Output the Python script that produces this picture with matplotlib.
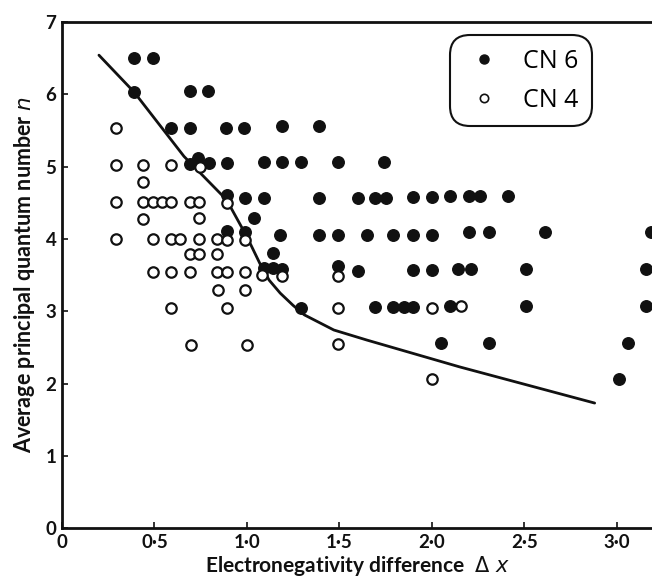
import matplotlib
matplotlib.use("Agg")
import matplotlib.pyplot as plt
from matplotlib.lines import Line2D

# ============================================================
# DATA
# ============================================================

# CN 6 (filled circles)
cn6_x = [0.39, 0.49,
         0.39, 0.69, 0.79,
         0.59, 0.69, 0.885, 0.985, 1.19, 1.39,
         0.69, 0.735, 0.795, 0.89, 1.09, 1.19, 1.29, 1.49, 1.74,
         0.89, 0.99, 1.09, 1.39, 1.60, 1.69, 1.75, 1.90, 2.00, 2.10, 2.20, 2.26, 2.41,
         1.04,
         0.89, 0.99, 1.18, 1.39, 1.49, 1.65, 1.79, 1.90, 2.00, 2.20, 2.31, 2.61, 3.185,
         1.14,
         1.09, 1.14, 1.19, 1.49, 1.60, 1.90, 2.00, 2.14, 2.21, 2.51, 3.16,
         1.29, 1.69, 1.79, 1.85, 1.90, 2.10, 2.51, 3.16,
         2.05, 2.31, 3.06,
         3.01]
cn6_n = [6.50, 6.50,
         6.03, 6.04, 6.04,
         5.53, 5.53, 5.53, 5.53, 5.56, 5.56,
         5.04, 5.12, 5.05, 5.05, 5.06, 5.06, 5.06, 5.06, 5.06,
         4.60, 4.56, 4.57, 4.57, 4.57, 4.57, 4.57, 4.58, 4.58, 4.59, 4.59, 4.59, 4.59,
         4.29,
         4.11, 4.09, 4.06, 4.06, 4.06, 4.06, 4.06, 4.06, 4.06, 4.09, 4.09, 4.09, 4.10,
         3.81,
         3.60, 3.60, 3.58, 3.63, 3.55, 3.57, 3.57, 3.58, 3.58, 3.58, 3.58,
         3.05, 3.06, 3.06, 3.06, 3.06, 3.07, 3.07, 3.07,
         2.56, 2.56, 2.56,
         2.06]

# CN 4 (open circles)
cn4_x = [0.29,
         0.29, 0.44, 0.59, 0.745,
         0.44,
         0.29, 0.44, 0.49, 0.54, 0.59, 0.69, 0.74, 0.89,
         0.44, 0.74,
         0.29, 0.49, 0.59, 0.64, 0.74, 0.84, 0.895, 0.99,
         0.69, 0.74, 0.84,
         0.49, 0.59, 0.69, 0.84, 0.89, 0.99, 1.08, 1.19, 1.49,
         0.845, 0.99,
         0.59, 0.895, 1.49, 2.00, 2.16,
         0.70, 1.00, 1.49,
         2.00]
cn4_n = [5.53,
         5.02, 5.02, 5.02, 5.00,
         4.78,
         4.51, 4.51, 4.51, 4.51, 4.51, 4.51, 4.51, 4.49,
         4.27, 4.29,
         4.00, 4.00, 4.00, 4.00, 4.00, 4.00, 3.99, 3.99,
         3.79, 3.79, 3.79,
         3.54, 3.54, 3.54, 3.54, 3.54, 3.54, 3.50, 3.48, 3.48,
         3.30, 3.30,
         3.04, 3.04, 3.05, 3.05, 3.07,
         2.53, 2.53, 2.54,
         2.06]

# dividing curve
curve_x = [0.20, 0.39, 0.66, 0.89, 1.00, 1.07, 1.12, 1.18, 1.25, 1.31, 1.47, 1.65, 2.15, 2.88]
curve_n = [6.54, 6.03, 5.14, 4.54, 4.03, 3.66, 3.43, 3.25, 3.08, 2.95, 2.74, 2.60, 2.23, 1.73]

x_ticks = [0, 0.5, 1.0, 1.5, 2.0, 2.5, 3.0]
x_tick_labels = ["0", "0·5", "1·0", "1·5", "2·0", "2·5", "3·0"]
y_ticks = [0, 1, 2, 3, 4, 5, 6, 7]

# ============================================================
# PLOT
# ============================================================

INK = "#111111"
FONT = ["Lato", "DejaVu Sans"]

fig = plt.figure(figsize=(6.52, 5.76), dpi=100)
ax = fig.add_axes([0.095, 0.083, 0.905, 0.879])

ax.plot(curve_x, curve_n, color=INK, linewidth=2.0, solid_capstyle="round", zorder=2)

ax.plot(cn6_x, cn6_n, linestyle="none", marker="o", markersize=8.3,
        markerfacecolor=INK, markeredgecolor=INK, markeredgewidth=1.0, zorder=3)
ax.plot(cn4_x, cn4_n, linestyle="none", marker="o", markersize=7.5,
        markerfacecolor="white", markeredgecolor=INK, markeredgewidth=1.6, zorder=3)

ax.set_xlim(0, 3.19)
ax.set_ylim(0, 7)

ax.set_xticks(x_ticks)
ax.set_xticklabels(x_tick_labels)
ax.set_yticks(y_ticks)
ax.tick_params(direction="in", length=4, width=1.2, color=INK, labelsize=13.5, pad=4)
for lab in ax.get_xticklabels() + ax.get_yticklabels():
    lab.set_fontfamily(FONT)
    lab.set_fontweight("bold")
    lab.set_color(INK)

ax.spines["right"].set_visible(False)
for side in ["left", "top", "bottom"]:
    ax.spines[side].set_linewidth(2.0)
    ax.spines[side].set_color(INK)

ax.set_xlabel(r"Electronegativity difference  $\mathit{\Delta\ x}$", fontsize=15,
              family=FONT, fontweight="bold", color=INK, labelpad=2)
ax.set_ylabel(r"Average principal quantum number $\mathit{n}$", fontsize=15.5,
              family=FONT, fontweight="bold", color=INK, labelpad=6)

handles = [
    Line2D([], [], linestyle="none", marker="o", markersize=6.5,
           markerfacecolor=INK, markeredgecolor=INK),
    Line2D([], [], linestyle="none", marker="o", markersize=6,
           markerfacecolor="white", markeredgecolor=INK, markeredgewidth=1.2),
]
leg = ax.legend(handles, ["CN 6", "CN 4"], loc="upper right",
                bbox_to_anchor=(0.898, 0.974), frameon=True, fancybox=True,
                prop={"family": ["Open Sans", "DejaVu Sans"], "size": 18},
                handlelength=1.6, handletextpad=0.75, labelspacing=0.55,
                borderpad=0.55, borderaxespad=0.0, framealpha=1.0)
frame = leg.get_frame()
frame.set_edgecolor(INK)
frame.set_linewidth(1.5)
frame.set_boxstyle("round", pad=0, rounding_size=0.8)

fig.savefig("out.png", dpi=100)
